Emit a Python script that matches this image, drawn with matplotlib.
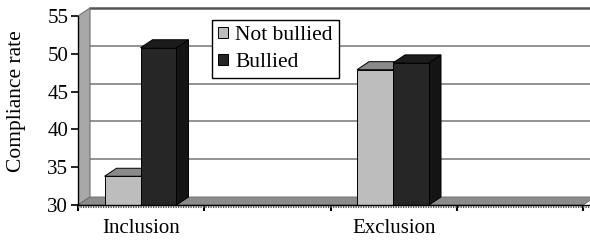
import matplotlib
matplotlib.use("Agg")
import matplotlib.pyplot as plt
from matplotlib.patches import Polygon, Patch

# ── DATA ──────────────────────────────────────────────────────
categories   = ["Inclusion", "", "Exclusion", ""]
not_bullied  = [33.8, None, 47.9, None]
bullied      = [50.8, None, 48.8, None]
series_names = ["Not bullied", "Bullied"]
y_ticks      = [30, 35, 40, 45, 50, 55]

plt.rcParams["font.family"] = ["Liberation Serif", "DejaVu Serif"]

fig = plt.figure(figsize=(5.9, 2.43), dpi=100)
ax = fig.add_axes([78/590, 38/243, 512/590, 197/243])

n = len(categories)
ymin, ymax = 30, 55
dx, dy = 0.095, 1.06          # fake 3D depth in data units

ax.set_xlim(0, n + 0.055)
ax.set_ylim(ymin, ymax + dy)

# left side wall and floor
ax.add_patch(Polygon([(0, ymin), (dx, ymin + dy), (dx, ymax + dy), (0, ymax)],
                     closed=True, facecolor="#a8a8a8", edgecolor="#707070", lw=0.8, zorder=1))
ax.add_patch(Polygon([(0, ymin), (n, ymin), (n + dx, ymin + dy), (dx, ymin + dy)],
                     closed=True, facecolor="#8c8c8c", edgecolor="#6a6a6a", lw=0.6, zorder=1))

# gridlines on back wall
for t in y_ticks[1:]:
    ax.plot([dx, n + dx + 0.1], [t + dy, t + dy], color="#555555" if t == ymax else "#8a8a8a",
            lw=1.8 if t == ymax else 1.3, zorder=0.5, clip_on=False)


def bar3d(x0, w, val, front, top, side):
    ax.add_patch(Polygon([(x0 + w, ymin), (x0 + w + dx, ymin + dy), (x0 + w + dx, val + dy), (x0 + w, val)],
                         closed=True, facecolor=side, edgecolor="black", lw=0.7, zorder=3))
    ax.add_patch(Polygon([(x0, val), (x0 + w, val), (x0 + w + dx, val + dy), (x0 + dx, val + dy)],
                         closed=True, facecolor=top, edgecolor="black", lw=0.7, zorder=3))
    ax.add_patch(Polygon([(x0, ymin), (x0 + w, ymin), (x0 + w, val), (x0, val)],
                         closed=True, facecolor=front, edgecolor="black", lw=0.7, zorder=3))


w = 0.285
for i in range(n):
    if not_bullied[i] is None:
        continue
    x0 = i + 0.21
    bar3d(x0, w, not_bullied[i], "#bdbdbd", "#8a8a8a", "#9a9a9a")
    bar3d(x0 + w, w, bullied[i], "#262626", "#1c1c1c", "#141414")

# axes lines
for s in ax.spines.values():
    s.set_visible(False)
ax.plot([0, 0], [ymin, ymax], color="black", lw=1.0, zorder=4, clip_on=False)
ax.plot([0, n + dx], [ymin, ymin], color="black", lw=1.0, zorder=4, clip_on=False)
ax.plot([0, n + dx], [ymin - 0.25, ymin - 0.25], color="#555555", lw=1.5,
        linestyle=(0, (0.6, 0.6)), zorder=4, clip_on=False)

ax.set_yticks(y_ticks)
ax.set_yticklabels([str(t) for t in y_ticks], fontsize=15)
ax.tick_params(axis="y", length=5, width=1.2, pad=2)

ax.set_xticks(range(n + 1))
ax.set_xticklabels([""] * (n + 1))
ax.tick_params(axis="x", which="major", length=4, width=1.5)
ax.set_xticks([i + 0.5 for i in range(n)], minor=True)
ax.set_xticklabels(categories, minor=True, fontsize=15)
ax.tick_params(axis="x", which="minor", length=0, pad=10)

fig.text(17/590, 1 - 101/243, "Compliance rate", fontsize=15.5,
         rotation=90, ha="center", va="center")

handles = [Patch(facecolor="#bdbdbd", edgecolor="black", lw=0.7),
           Patch(facecolor="#262626", edgecolor="black", lw=0.7)]
leg = ax.legend(handles, series_names, loc="upper left",
                bbox_to_anchor=(212/590, 1 - 20/243), bbox_transform=fig.transFigure,
                fontsize=15.5, fancybox=False, framealpha=1, edgecolor="black",
                handlelength=0.42, handleheight=0.42, handletextpad=0.35,
                borderpad=0.3, labelspacing=0.35, borderaxespad=0)
leg.get_frame().set_linewidth(1.0)
leg.set_zorder(10)

fig.savefig("out.png", dpi=100)
